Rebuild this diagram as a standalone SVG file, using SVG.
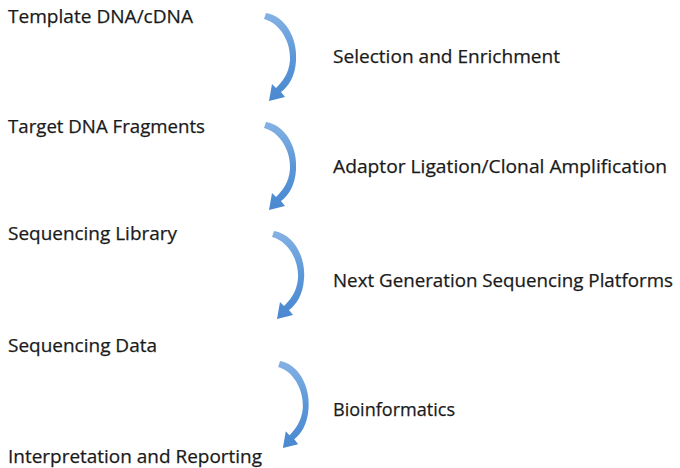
<svg xmlns="http://www.w3.org/2000/svg" width="680" height="468" viewBox="0 0 680 468">
  <style>
    .t { font-family: "Open Sans", "Liberation Sans", Arial, sans-serif; font-size: 19px; font-weight: 500; fill: #1a1a1a; stroke: #1a1a1a; stroke-width: 0.25; }
    .arrow { fill: url(#ag); }
  </style>
  <defs>
    <linearGradient id="ag" x1="0" y1="0" x2="0" y2="1">
      <stop offset="0" stop-color="#85b2e4"/>
      <stop offset="0.5" stop-color="#5b97d8"/>
      <stop offset="1" stop-color="#4a88d0"/>
    </linearGradient>
    <path id="curved" d="M -1,0 C 18,3 31,25 29,48 C 28,64 21,74 14,79 L 18,84 L 2,88 L 5,71 L 9,75 C 15,69 22,61 23,47 C 24,29 13,10 -3,6 Z"/>
  </defs>
  <rect width="680" height="468" fill="#ffffff"/>

  <g id="node-template"><text class="t" x="8" y="23" textLength="185" lengthAdjust="spacingAndGlyphs">Template DNA/cDNA</text></g>
  <g id="node-target"><text class="t" x="8" y="133" textLength="197" lengthAdjust="spacingAndGlyphs">Target DNA Fragments</text></g>
  <g id="node-library"><text class="t" x="8" y="240" textLength="169" lengthAdjust="spacingAndGlyphs">Sequencing Library</text></g>
  <g id="node-data"><text class="t" x="8" y="352" textLength="149" lengthAdjust="spacingAndGlyphs">Sequencing Data</text></g>
  <g id="node-report"><text class="t" x="8" y="463" textLength="254" lengthAdjust="spacingAndGlyphs">Interpretation and Reporting</text></g>

  <g id="connectors">
    <use href="#curved" class="arrow" transform="translate(267,13)"/>
    <use href="#curved" class="arrow" transform="translate(267,122)"/>
    <use href="#curved" class="arrow" transform="translate(275,231)"/>
    <use href="#curved" class="arrow" transform="translate(281,361) scale(0.95,0.99)"/>
    <text class="t" x="333" y="63" textLength="227" lengthAdjust="spacingAndGlyphs">Selection and Enrichment</text>
    <text class="t" x="333" y="173" textLength="334" lengthAdjust="spacingAndGlyphs">Adaptor Ligation/Clonal Amplification</text>
    <text class="t" x="333" y="287" textLength="340" lengthAdjust="spacingAndGlyphs">Next Generation Sequencing Platforms</text>
    <text class="t" x="333" y="416" textLength="122" lengthAdjust="spacingAndGlyphs">Bioinformatics</text>
  </g>
</svg>
